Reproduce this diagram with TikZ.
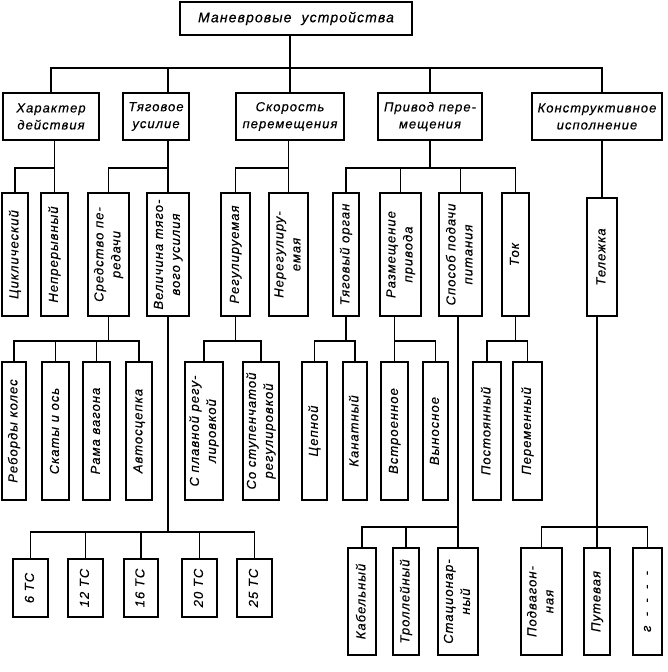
\documentclass[tikz,border=0pt]{standalone}
\usepackage{fontspec}
\setmainfont{Liberation Sans}[LetterSpace=8, ItalicFeatures={FakeBold=0.5}]
\usepackage{graphicx}

\newcommand{\vtext}[1]{\rotatebox{90}{\begin{tabular}{@{}c@{}}#1\end{tabular}}}

\tikzset{
	box/.style={draw, line width=2.3pt, inner sep=0pt, align=center,
		font=\fontsize{13}{17}\selectfont\itshape},
	link/.style={draw=black, line width=1.3pt},
}

\begin{document}
\begin{tikzpicture}[x=1pt, y=-1pt]
	\useasboundingbox (0,0) rectangle (667,672);

	\coordinate (y1) at (0,68);
	\coordinate (y2) at (0,168);
	\coordinate (y3) at (0,341);
	\coordinate (yt) at (0,532);
	\coordinate (y4) at (0,527);

	% top and second level
	\begin{scope}[every node/.style={box, minimum height=47pt}]
		\node[minimum width=232pt, minimum height=33pt, font=\fontsize{14}{17}\selectfont\itshape] (M) at (296,18.5) {Маневровые\ \ устройства};
		\node[minimum width=96pt]  (H) at (51,116.5)  {Характер\\действия};
		\node[minimum width=66pt]  (T) at (156,116.5) {Тяговое\\усилие};
		\node[minimum width=108pt] (S) at (290,116.5) {Скорость\\перемещения};
		\node[minimum width=104pt] (P) at (430,116.5) {Привод пере-\\мещения};
		\node[minimum width=130pt] (K) at (597,116.5) {Конструктивное\\исполнение};
	\end{scope}

	% third level
	\begin{scope}[every node/.style={box, minimum height=123pt}]
		\node[minimum width=26pt] (H1) at (15,254.5)    {\vtext{Циклический}};
		\node[minimum width=27pt] (H2) at (54.5,254.5)  {\vtext{Непрерывный}};
		\node[minimum width=41pt] (T1) at (108.5,254.5) {\vtext{Средство пе-\\редачи}};
		\node[minimum width=42pt] (T2) at (168,254.5)   {\vtext{Величина тяго-\\вого усилия}};
		\node[minimum width=29pt] (S1) at (235.5,254.5) {\vtext{Регулируемая}};
		\node[minimum width=39pt] (S2) at (288.5,254.5) {\vtext{Нерегулиру-\\емая}};
		\node[minimum width=26pt] (P1) at (346,254.5)   {\vtext{Тяговый орган}};
		\node[minimum width=41pt] (P2) at (400.5,254.5) {\vtext{Размещение\\привода}};
		\node[minimum width=43pt] (P3) at (460.5,254.5) {\vtext{Способ подачи\\питания}};
		\node[minimum width=27pt] (P4) at (515.5,254.5) {\vtext{Ток}};
		\node[minimum width=30pt, minimum height=118pt] (K1) at (602,257) {\vtext{Тележка}};
	\end{scope}

	% fourth level
	\begin{scope}[every node/.style={box, minimum height=138pt}]
		\node[minimum width=24pt] (T11) at (14,431)    {\vtext{Реборды колес}};
		\node[minimum width=27pt] (T12) at (55.5,431)  {\vtext{Скаты и ось}};
		\node[minimum width=27pt] (T13) at (96.5,431)  {\vtext{Рама вагона}};
		\node[minimum width=26pt] (T14) at (139,431)   {\vtext{Автосцепка}};
		\node[minimum width=38pt] (S11) at (204,431)   {\vtext{С плавной регу-\\лировкой}};
		\node[minimum width=36pt] (S12) at (261,431)   {\vtext{Со ступенчатой\\регулировкой}};
		\node[minimum width=25pt] (P11) at (314.5,431) {\vtext{Цепной}};
		\node[minimum width=24pt] (P12) at (355,431)   {\vtext{Канатный}};
		\node[minimum width=27pt] (P21) at (394.5,431) {\vtext{Встроенное}};
		\node[minimum width=25pt] (P22) at (435.5,431) {\vtext{Выносное}};
		\node[minimum width=28pt] (P41) at (487,431)   {\vtext{Постоянный}};
		\node[minimum width=29pt] (P42) at (527.5,431) {\vtext{Переменный}};
	\end{scope}

	% fifth level
	\begin{scope}[every node/.style={box, minimum height=58pt}]
		\node[minimum width=35pt] (T21) at (30.5,588)  {\vtext{6 ТС}};
		\node[minimum width=35pt] (T22) at (85.5,588)  {\vtext{12 ТС}};
		\node[minimum width=34pt] (T23) at (141,588)   {\vtext{16 ТС}};
		\node[minimum width=35pt] (T24) at (199.5,588) {\vtext{20 ТС}};
		\node[minimum width=35pt] (T25) at (254.5,588) {\vtext{25 ТС}};
	\end{scope}
	\begin{scope}[every node/.style={box, minimum height=107pt}]
		\node[minimum width=28pt] (P31) at (362,601.5)   {\vtext{Кабельный}};
		\node[minimum width=26pt] (P32) at (406,601.5)   {\vtext{Троллейный}};
		\node[minimum width=40pt] (P33) at (458,601.5)   {\vtext{Стационар-\\ный}};
		\node[minimum width=41pt] (K11) at (541.5,601.5) {\vtext{Подвагон-\\ная}};
		\node[minimum width=26pt] (K12) at (597,601.5)   {\vtext{Путевая}};
		\node[minimum width=29pt] (K13) at (647.5,601.5) {\vtext{г\ \ -\ \ -\ \ -\ \ -}};
	\end{scope}

	% connectors
	\begin{scope}[every path/.style={link}]
		\path (M.south -| S.north) -- (S.north);
		\path (H.north) |- (S.north |- y1) -| (K.north -| K1.north);
		\path (T.north -| T2.north) -- (T2.north |- y1);
		\path (P.north) -- (P.north |- y1);

		\path (H.south -| H2.north) -- (H2.north);
		\path (H1.north) |- (H2.north |- y2);
		\path (T.south -| T2.north) -- (T2.north);
		\path (T1.north) |- (T2.north |- y2);
		\path (S.south -| S2.north) -- (S2.north);
		\path (S1.north) |- (S2.north |- y2);
		\path (P.south) -- (P.south |- y2);
		\path (P1.north) |- (P.south |- y2) -| (P4.north);
		\path (P2.north) -- (P2.north |- y2);
		\path (P3.north) -- (P3.north |- y2);
		\path (K.south -| K1.north) -- (K1.north);

		\path (T1.south) -- (T1.south |- y3);
		\path (T11.north) |- (T1.south |- y3) -| (T14.north);
		\path (T12.north) -- (T12.north |- y3);
		\path (T13.north) -- (T13.north |- y3);
		\path (S1.south) -- (S1.south |- y3);
		\path (S11.north) |- (S1.south |- y3) -| (S12.north);
		\path (P1.south) -- (P1.south |- y3);
		\path (P11.north) |- (P1.south |- y3) -| (P12.north);
		\path (P2.south -| P21.north) -- (P21.north);
		\path (P21.north |- y3) -| (P22.north);
		\path (P4.south) -- (P4.south |- y3);
		\path (P41.north) |- (P4.south |- y3) -| (P42.north);

		\path (T2.south) -- (T2.south |- yt);
		\path (T21.north) |- (T2.south |- yt) -| (T25.north);
		\path (T22.north) -- (T22.north |- yt);
		\path (T23.north) -- (T23.north |- yt);
		\path (T24.north) -- (T24.north |- yt);
		\path (P3.south -| P33.north) -- (P33.north);
		\path (P31.north) |- (P33.north |- y4);
		\path (P32.north) -- (P32.north |- y4);
		\path (K1.south -| K12.north) -- (K12.north);
		\path (K11.north) |- (K12.north |- y4) -| (K13.north);
	\end{scope}
\end{tikzpicture}
\end{document}
